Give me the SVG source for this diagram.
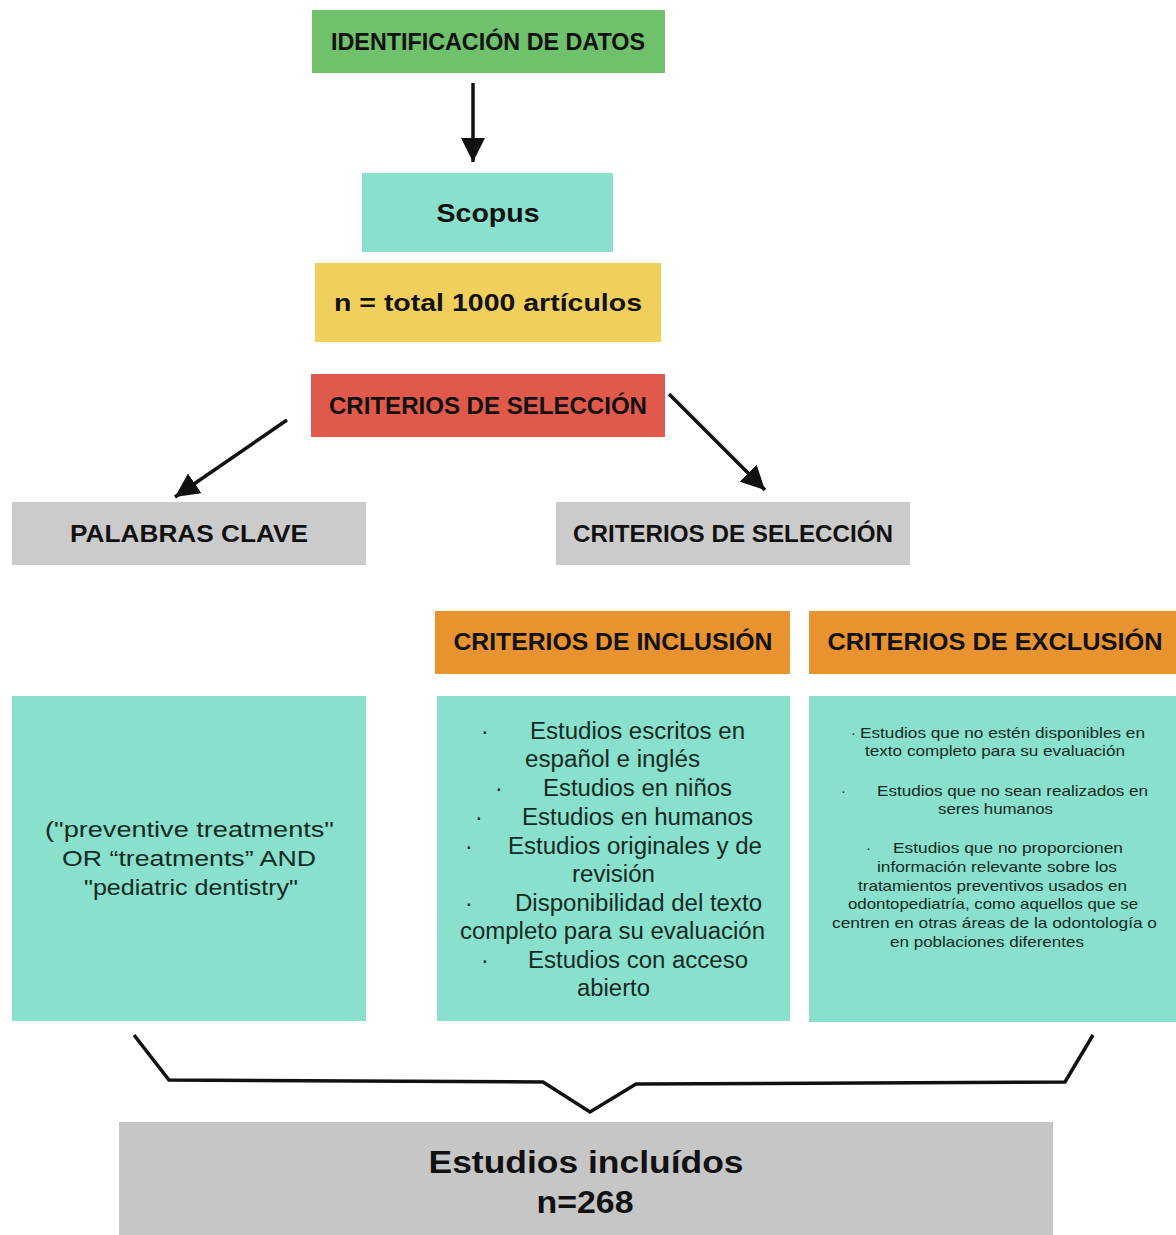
<svg xmlns="http://www.w3.org/2000/svg" width="1176" height="1235" viewBox="0 0 1176 1235">
<style>
.hd{font-family:"Liberation Sans",Arial,sans-serif;font-weight:bold;fill:#111;text-anchor:middle}
.bd{font-family:"Liberation Sans",Arial,sans-serif;fill:#142a24;font-size:23px}
.lf{font-family:"Liberation Sans",Arial,sans-serif;fill:#142a24;font-size:22px}
.sm{font-family:"Liberation Sans",Arial,sans-serif;fill:#142a24;font-size:14.5px}
.teal{fill:#88e0cd}
.gray{fill:#cbcbcb}
.orange{fill:#e8932f}
.conn{stroke:#111;stroke-width:3.5;fill:none}
</style>
<defs>
<marker id="ah" markerUnits="userSpaceOnUse" markerWidth="26" markerHeight="24" refX="24" refY="12" orient="auto">
<path d="M0,0 L24,12 L0,24 Z" fill="#111"/>
</marker>
</defs>
<rect width="1176" height="1235" fill="#fff"/>
<g id="n-ident">
<rect x="312" y="10" width="353" height="63" fill="#6fc16b"/>
<text class="hd" x="488" y="50" font-size="23" textLength="314" lengthAdjust="spacingAndGlyphs">IDENTIFICACIÓN DE DATOS</text>
</g>
<g id="n-scopus">
<rect class="teal" x="362" y="173" width="251" height="79"/>
<text class="hd" x="488" y="222" font-size="26" textLength="103" lengthAdjust="spacingAndGlyphs">Scopus</text>
</g>
<g id="n-total">
<rect x="315" y="263" width="346" height="79" fill="#f1cf5c"/>
<text class="hd" x="488" y="311" font-size="24" textLength="308" lengthAdjust="spacingAndGlyphs">n = total 1000 artículos</text>
</g>
<g id="n-criterios">
<rect x="311" y="374" width="354" height="63" fill="#e0594a"/>
<text class="hd" x="488" y="414" font-size="23" textLength="318" lengthAdjust="spacingAndGlyphs">CRITERIOS DE SELECCIÓN</text>
</g>
<g id="n-palabras">
<rect class="gray" x="12" y="502" width="354" height="63"/>
<text class="hd" x="189" y="542" font-size="24" textLength="238" lengthAdjust="spacingAndGlyphs">PALABRAS CLAVE</text>
</g>
<g id="n-criterios2">
<rect class="gray" x="556" y="502" width="354" height="63"/>
<text class="hd" x="733" y="542" font-size="23" textLength="320" lengthAdjust="spacingAndGlyphs">CRITERIOS DE SELECCIÓN</text>
</g>
<g id="n-inclusion-h">
<rect class="orange" x="435" y="611" width="355" height="63"/>
<text class="hd" x="613" y="650" font-size="23" textLength="319" lengthAdjust="spacingAndGlyphs">CRITERIOS DE INCLUSIÓN</text>
</g>
<g id="n-exclusion-h">
<rect class="orange" x="809" y="611" width="367" height="63"/>
<text class="hd" x="995" y="650" font-size="23" textLength="335" lengthAdjust="spacingAndGlyphs">CRITERIOS DE EXCLUSIÓN</text>
</g>
<g id="n-keywords">
<rect class="teal" x="12" y="696" width="354" height="325"/>
<text class="lf" x="45" y="837" textLength="289" lengthAdjust="spacingAndGlyphs">("preventive treatments"</text>
<text class="lf" x="62" y="866" textLength="254" lengthAdjust="spacingAndGlyphs">OR “treatments” AND</text>
<text class="lf" x="84" y="895" textLength="214" lengthAdjust="spacingAndGlyphs">"pediatric dentistry"</text>
</g>
<g id="n-inclusion">
<rect class="teal" x="437" y="696" width="353" height="325"/>
<text class="bd" x="481" y="739">·</text><text class="bd" x="530" y="739" textLength="215" lengthAdjust="spacingAndGlyphs">Estudios escritos en</text>
<text class="bd" x="525" y="767" textLength="175" lengthAdjust="spacingAndGlyphs">español e inglés</text>
<text class="bd" x="495" y="796">·</text><text class="bd" x="543" y="796" textLength="189" lengthAdjust="spacingAndGlyphs">Estudios en niños</text>
<text class="bd" x="475" y="825">·</text><text class="bd" x="522" y="825" textLength="231" lengthAdjust="spacingAndGlyphs">Estudios en humanos</text>
<text class="bd" x="465" y="854">·</text><text class="bd" x="508" y="854" textLength="254" lengthAdjust="spacingAndGlyphs">Estudios originales y de</text>
<text class="bd" x="572" y="882" textLength="83" lengthAdjust="spacingAndGlyphs">revisión</text>
<text class="bd" x="465" y="911">·</text><text class="bd" x="515" y="911" textLength="247" lengthAdjust="spacingAndGlyphs">Disponibilidad del texto</text>
<text class="bd" x="460" y="939" textLength="305" lengthAdjust="spacingAndGlyphs">completo para su evaluación</text>
<text class="bd" x="481" y="968">·</text><text class="bd" x="528" y="968" textLength="220" lengthAdjust="spacingAndGlyphs">Estudios con acceso</text>
<text class="bd" x="577" y="996" textLength="73" lengthAdjust="spacingAndGlyphs">abierto</text>
</g>
<g id="n-exclusion">
<rect class="teal" x="809" y="696" width="367" height="326"/>
<text class="sm" x="851" y="738">·</text><text class="sm" x="860" y="738" textLength="285" lengthAdjust="spacingAndGlyphs">Estudios que no estén disponibles en</text>
<text class="sm" x="865" y="756" textLength="260" lengthAdjust="spacingAndGlyphs">texto completo para su evaluación</text>
<text class="sm" x="841" y="796">·</text><text class="sm" x="877" y="796" textLength="271" lengthAdjust="spacingAndGlyphs">Estudios que no sean realizados en</text>
<text class="sm" x="938" y="814" textLength="115" lengthAdjust="spacingAndGlyphs">seres humanos</text>
<text class="sm" x="866" y="853">·</text><text class="sm" x="893" y="853" textLength="230" lengthAdjust="spacingAndGlyphs">Estudios que no proporcionen</text>
<text class="sm" x="877" y="872" textLength="240" lengthAdjust="spacingAndGlyphs">información relevante sobre los</text>
<text class="sm" x="858" y="891" textLength="269" lengthAdjust="spacingAndGlyphs">tratamientos preventivos usados en</text>
<text class="sm" x="848" y="909" textLength="290" lengthAdjust="spacingAndGlyphs">odontopediatría, como aquellos que se</text>
<text class="sm" x="832" y="928" textLength="325" lengthAdjust="spacingAndGlyphs">centren en otras áreas de la odontología o</text>
<text class="sm" x="890" y="947" textLength="194" lengthAdjust="spacingAndGlyphs">en poblaciones diferentes</text>
</g>
<g id="n-incluidos">
<rect x="119" y="1122" width="934" height="113" fill="#c6c6c6"/>
<text class="hd" x="586" y="1173" font-size="31" textLength="315" lengthAdjust="spacingAndGlyphs">Estudios incluídos</text>
<text class="hd" x="585" y="1213" font-size="32" textLength="97" lengthAdjust="spacingAndGlyphs">n=268</text>
</g>
<g id="connectors">
<line class="conn" x1="473" y1="83" x2="473" y2="162" marker-end="url(#ah)"/>
<line class="conn" x1="287" y1="420" x2="175" y2="497" marker-end="url(#ah)"/>
<line class="conn" x1="669" y1="394" x2="765" y2="490" marker-end="url(#ah)"/>
<polyline class="conn" stroke-width="4" stroke-linejoin="miter" points="134,1035 169,1080 543,1082 590,1112 636,1084 1065,1082 1093,1035"/>
</g>
</svg>
